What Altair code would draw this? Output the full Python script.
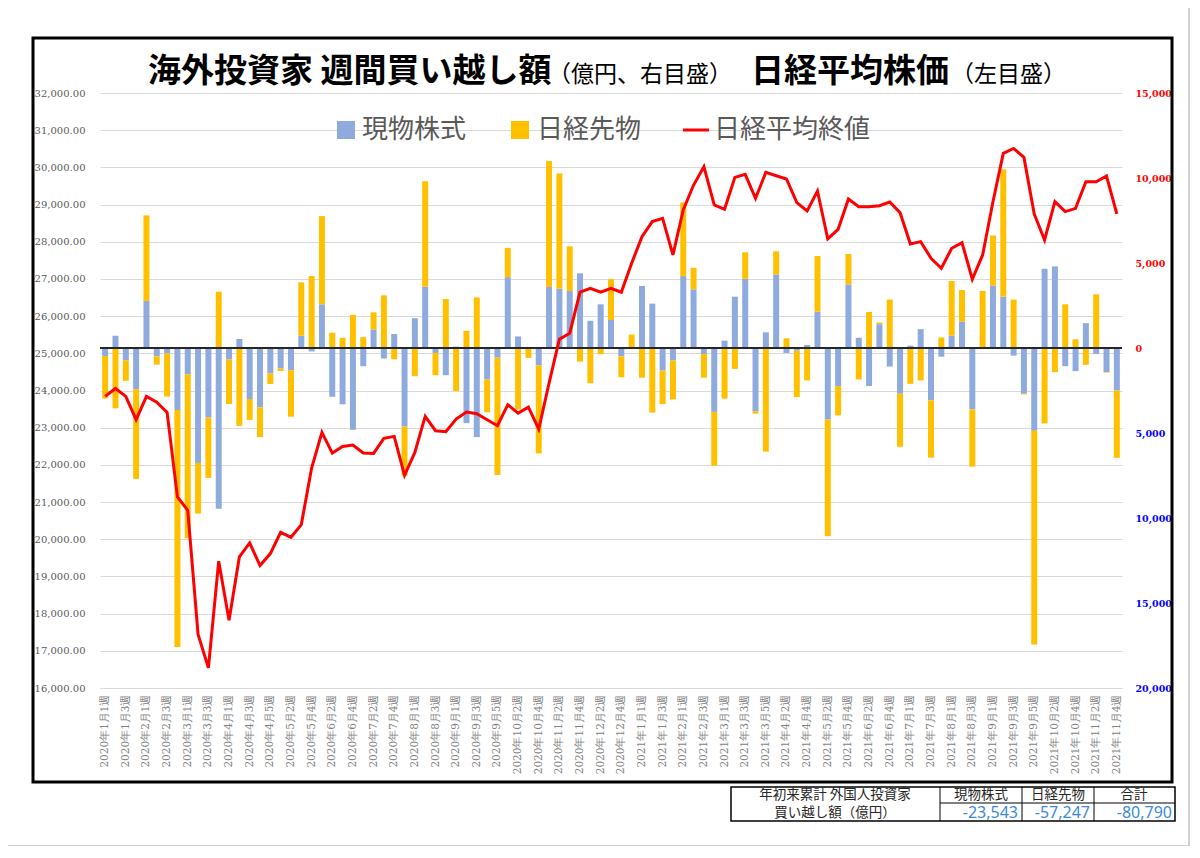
import altair as alt
import pandas as pd

# ---------------- data ----------------
weeks_per_month_2020 = [4, 4, 4, 5, 4, 4, 5, 4, 5, 4, 4, 5]
weeks_per_month_2021 = [4, 4, 5, 4, 4, 5, 4, 4, 5, 4, 4]
weeks = []
for year, counts in ((2020, weeks_per_month_2020), (2021, weeks_per_month_2021)):
    for m, n in enumerate(counts, start=1):
        for w in range(1, n + 1):
            weeks.append(f"{year}年{m}月{w}週")

genbutsu = [-470, 720, -720, -2420, 2770, -490, -330, -3650, -1540, -6760,
            -4090, -9450, -680, 530, -3000, -3490, -1500, -1210, -1310, 720,
            -200, 2570, -2870, -3310, -4810, -1070, 1090, -620, 820, -4620,
            1750, 3610, -290, -1600, 80, -4420, -5240, -1850, -570, 4170,
            680, -60, -1030, 3590, 3490, 3350, 4390, 1600, 2570, 1640,
            -490, 30, 3650, 2610, -1330, -740, 4230, 3450, -350, -3760,
            430, 3020, 4070, -3720, 920, 4330, -290, -160, 180, 2140,
            -4210, -2240, 3740, 600, -2240, 1400, -1090, -2690, 140, 1110,
            -3080, -510, 720, 1560, -3610, 30, 3680, 3020, -450, -2690,
            -4870, 4660, 4800, -1070, -1360, 1460, -350, -1420, -2500]

sakimono = [-2500, -3550, -1210, -5280, 5030, -490, -2530, -13940, -9650, -2980,
            -3550, 3310, -2610, -4580, -1230, -1750, -620, -140, -2730, 3140,
            4230, 5190, 900, 600, 1950, 640, 1010, 3100, -660, -2890,
            -1660, 6200, -1310, 2880, -2530, 1010, 2980, -1930, -6900, 1720,
            -3610, -520, -5170, 7410, 6780, 2630, -800, -2070, -370, 2420,
            -1230, 760, -1750, -3800, -1970, -2280, 4330, 1270, -1400, -3160,
            -2980, -1230, 1560, -140, -6100, 1360, 570, -2730, -1910, 3270,
            -6860, -1720, 1790, -1850, 2120, 100, 2850, -3120, -2110, -1910,
            -3370, 620, 3220, 1850, -3370, 3330, 2940, 7490, 2850, -40,
            -12570, -4440, -1420, 2570, 510, -990, 3160, -30, -3960]

nikkei = [23841, 24055, 23841, 23214, 23841, 23688, 23411, 21137, 20779, 17439,
          16544, 19409, 17824, 19525, 19901, 19292, 19614, 20187, 20053, 20393,
          21915, 22873, 22318, 22497, 22533, 22318, 22309, 22712, 22766, 21718,
          22336, 23303, 22918, 22891, 23231, 23419, 23375, 23213, 23052, 23617,
          23393, 23554, 22963, 24200, 25380, 25541, 26643, 26750, 26643, 26750,
          26643, 27422, 28138, 28541, 28630, 27645, 28854, 29525, 30018, 28988,
          28872, 29731, 29812, 29167, 29866, 29776, 29687, 29051, 28827, 29364,
          28075, 28335, 29149, 28944, 28944, 28970, 29069, 28782, 27941, 28004,
          27556, 27287, 27824, 27977, 26992, 27645, 29078, 30376, 30510, 30268,
          28747, 28048, 29078, 28809, 28899, 29615, 29615, 29767, 28747]

series_names = ["現物株式", "日経先物"]
series_colors = ["#8FAADC", "#FFC000"]
line_name = "日経平均終値"

title_big_1 = "海外投資家 週間買い越し額"
title_small_1 = "（億円、右目盛）"
title_big_2 = "日経平均株価"
title_small_2 = "（左目盛）"

table_title = ["年初来累計 外国人投資家", "買い越し額（億円）"]
table_headers = ["現物株式", "日経先物", "合計"]
table_values = [-23543, -57247, -80790]

# ---------------- frames ----------------
rows = []
for i, wk in enumerate(weeks):
    rows.append({"week": wk, "series": series_names[0], "value": genbutsu[i], "order": 0})
    rows.append({"week": wk, "series": series_names[1], "value": sakimono[i], "order": 1})
bars_df = pd.DataFrame(rows)
line_df = pd.DataFrame({"week": weeks, "nikkei": nikkei})
one = pd.DataFrame({"k": [0]})

# ---------------- geometry ----------------
W, H = 1022, 595
PAD_L, PAD_T, PAD_R, PAD_B = 92, 85, 70, 158
OX, OY = 8 + PAD_L, 8 + PAD_T  # page coords of plot origin

JP = "Noto Sans CJK JP"


def txt(s, x, y, size, color="#000000", weight="normal", align="left",
        baseline="alphabetic", font=JP):
    return alt.Chart(one).mark_text(
        text=s, fontSize=size, color=color, fontWeight=weight, align=align,
        baseline=baseline, font=font
    ).encode(x=alt.value(x - OX), y=alt.value(y - OY))


def box(x1, y1, x2, y2, stroke="#000000", sw=1.0, fill="transparent"):
    return alt.Chart(one).mark_rect(fill=fill, stroke=stroke, strokeWidth=sw).encode(
        x=alt.value(x1 - OX), x2=alt.value(x2 - OX),
        y=alt.value(y1 - OY), y2=alt.value(y2 - OY))


def hline(x1, x2, y, color="#000000", sw=1.0):
    return alt.Chart(one).mark_rule(color=color, strokeWidth=sw).encode(
        x=alt.value(x1 - OX), x2=alt.value(x2 - OX), y=alt.value(y - OY))


def vline(x, y1, y2, color="#000000", sw=1.0):
    return alt.Chart(one).mark_rule(color=color, strokeWidth=sw).encode(
        x=alt.value(x - OX), y=alt.value(y1 - OY), y2=alt.value(y2 - OY))


# ---------------- encodings ----------------
x_enc = alt.X(
    "week:N", sort=weeks,
    scale=alt.Scale(domain=weeks, paddingInner=0.42, paddingOuter=0.21),
    axis=alt.Axis(values=weeks[::2], labelAngle=270, labelFont="DejaVu Serif",
                  labelFontSize=10.5, labelColor="#7F7F7F", ticks=False,
                  domainColor="#D9D9D9", domainWidth=1, labelPadding=6,
                  title="", grid=False, labelOverlap=False),
)

bars = alt.Chart(bars_df).mark_bar().encode(
    x=x_enc,
    y=alt.Y("value:Q", stack="zero",
            scale=alt.Scale(domain=[-20000, 15000], nice=False, zero=False),
            axis=alt.Axis(orient="right", values=list(range(-20000, 15001, 5000)),
                          labelExpr="format(abs(datum.value), ',')",
                          labelColor={"condition": {"test": "datum.value < 0", "value": "#0000FF"},
                                      "value": "#FF0000"},
                          labelFont="DejaVu Serif", labelFontSize=9.5, labelFontWeight="bold",
                          grid=False, domain=False, ticks=False, labelPadding=13, title="")),
    color=alt.Color("series:N", scale=alt.Scale(domain=series_names, range=series_colors),
                    legend=None),
    order=alt.Order("order:Q"),
)

zero_rule = alt.Chart(one).mark_rule(color="#262626", strokeWidth=2).encode(y=alt.datum(0))

line = alt.Chart(line_df).mark_line(color="#FF0000", strokeWidth=3).encode(
    x=x_enc,
    y=alt.Y("nikkei:Q",
            scale=alt.Scale(domain=[16000, 32000], nice=False, zero=False),
            axis=alt.Axis(orient="left", values=list(range(16000, 32001, 1000)),
                          format=",.2f", labelFont="DejaVu Serif", labelFontSize=10,
                          labelColor="#595959", grid=True, gridColor="#D9D9D9",
                          gridWidth=1, domain=False, ticks=False, labelPadding=15,
                          title="")),
)

# ---------------- decorations ----------------
decor = [
    # outer frame
    box(33, 38, 1172, 782, sw=3),
    # page edge lines
    vline(1189, 8, 846, color="#A6A6A6", sw=1),
    hline(8, 1189, 846, color="#A6A6A6", sw=1),
    # title
    txt(title_big_1, 148, 82, 33, weight="bold"),
    txt(title_small_1, 548, 82, 23),
    txt(title_big_2, 751, 82, 33, weight="bold"),
    txt(title_small_2, 951, 82, 23),
    # legend
    box(337, 121, 355, 139, stroke="transparent", sw=0, fill=series_colors[0]),
    txt(series_names[0], 362, 130, 26, color="#595959", baseline="middle"),
    box(511, 121, 529, 139, stroke="transparent", sw=0, fill=series_colors[1]),
    txt(series_names[1], 537, 130, 26, color="#595959", baseline="middle"),
    hline(683, 709, 130, color="#FF0000", sw=3),
    txt(line_name, 714, 130, 26, color="#595959", baseline="middle"),
    # table
    box(731, 787, 1175, 821, sw=1.5),
    vline(940, 787, 821, sw=1),
    vline(1022, 787, 821, sw=1),
    vline(1094, 787, 821, sw=1),
    hline(940, 1175, 803, sw=1),
    txt(table_title[0], 835, 794.5, 13.5, color="#262626", align="center", baseline="middle"),
    txt(table_title[1], 835, 813, 13.5, color="#262626", align="center", baseline="middle"),
    txt(table_headers[0], 981, 794.5, 13.5, color="#262626", align="center", baseline="middle"),
    txt(table_headers[1], 1058, 794.5, 13.5, color="#262626", align="center", baseline="middle"),
    txt(table_headers[2], 1134, 794.5, 13.5, color="#262626", align="center", baseline="middle"),
    txt(f"{table_values[0]:,}", 1018, 813, 16, color="#3B8AD9", align="right",
        baseline="middle", font="Noto Sans"),
    txt(f"{table_values[1]:,}", 1090, 813, 16, color="#3B8AD9", align="right",
        baseline="middle", font="Noto Sans"),
    txt(f"{table_values[2]:,}", 1172, 813, 16, color="#3B8AD9", align="right",
        baseline="middle", font="Noto Sans"),
]

bar_group = alt.layer(bars, zero_rule, *decor)

chart = alt.layer(bar_group, line).resolve_scale(y="independent").properties(
    width=W, height=H,
    padding={"left": PAD_L, "top": PAD_T, "right": PAD_R, "bottom": PAD_B},
    autosize=alt.AutoSizeParams(type="none"),
    background="#FFFFFF",
).configure_view(strokeWidth=0)

chart.save("out.html", embed_options={"renderer": "svg", "actions": False})
